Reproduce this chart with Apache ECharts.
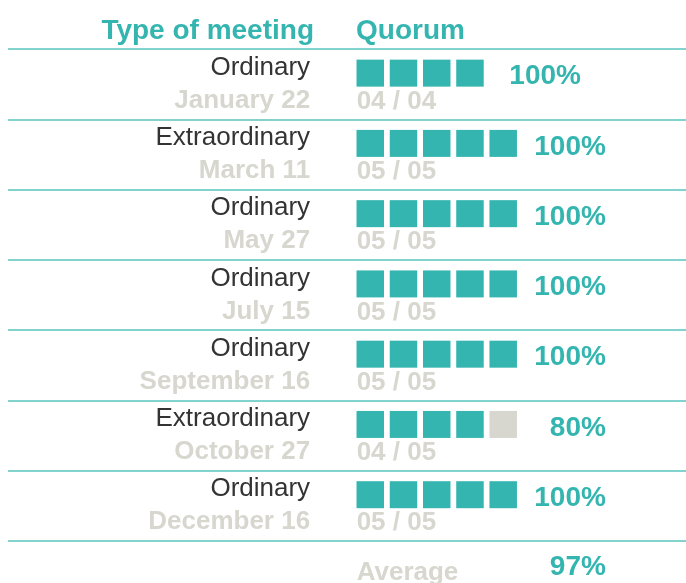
<!DOCTYPE html>
<html>
<head>
<meta charset="utf-8">
<script src="https://cdn.jsdelivr.net/npm/echarts@6/dist/echarts.min.js"></script>
<style>html,body{margin:0;padding:0;background:#fff;}#c{width:686px;height:583px;}</style>
</head>
<body>
<div id="c"></div>
<script>
// ---- data ----
var meetingTypes = ['Ordinary','Extraordinary','Ordinary','Ordinary','Ordinary','Extraordinary','Ordinary'];
var meetingDates = ['January 22','March 11','May 27','July 15','September 16','October 27','December 16'];
var present = [4,5,5,5,5,4,5];
var members = [4,5,5,5,5,5,5];
var quorumPct = [100,100,100,100,100,80,100];
var averageLabel = 'Average';
var averagePct = 97;
var headers = ['Type of meeting','Quorum'];

// ---- styles ----
var TEAL = '#35b5b0', LINE = '#82d2ce', GRAY = '#d7d7cf', DARK = '#333333', FONT = 'Liberation Sans, Arial, sans-serif';

var nRows = meetingTypes.length;
var squares = [];
for (var r = 0; r < nRows; r++) {
  for (var i = 0; i < members[r]; i++) {
    squares.push({value: [i + 0.5, r + 0.5], itemStyle: {color: i < present[r] ? TEAL : GRAY}});
  }
}
function pad2(n){ return (n < 10 ? '0' : '') + n; }
var fractions = [];
for (var r = 0; r < nRows; r++) {
  fractions.push({value: [0, r + 0.5], txt: pad2(present[r]) + ' / ' + pad2(members[r])});
}
fractions.push({value: [0, nRows + 0.5], txt: averageLabel, label: {offset: [0, -3]}});

var pctPts = [];
for (var r = 0; r < nRows; r++) {
  pctPts.push({value: [3.84 + 0.75 * members[r], r + 0.5], txt: quorumPct[r] + '%'});
}
pctPts.push({value: [3.84 + 0.75 * 5, nRows + 0.5], txt: averagePct + '%', label: {offset: [0, -9]}});

var rowLabels = [];
for (var r = 0; r < nRows; r++) {
  rowLabels.push({value: [-1.31, r + 0.5], t: meetingTypes[r], d: meetingDates[r]});
}

var lineColors = [];
for (var r = 0; r <= nRows; r++) lineColors.push(LINE);
lineColors.push('rgba(0,0,0,0)');

var chart = echarts.init(document.getElementById('c'), null, {renderer: 'canvas'});
chart.setOption({
  animation: false,
  title: [
    {text: headers[0], right: 372, top: 17, padding: 0, textStyle: {fontSize: 28, fontWeight: 'bold', color: TEAL, fontFamily: FONT}},
    {text: headers[1], left: 356, top: 17, padding: 0, textStyle: {fontSize: 28, fontWeight: 'bold', color: TEAL, fontFamily: FONT}}
  ],
  grid: {left: 8, top: 49, right: 0, bottom: 0, containLabel: false},
  xAxis: {type: 'value', min: -10.4, max: 10, show: false},
  yAxis: {
    type: 'value', min: 0, max: 7.6, interval: 1, inverse: true,
    axisLine: {show: false}, axisTick: {show: false}, axisLabel: {show: false},
    splitLine: {show: true, lineStyle: {color: lineColors, width: 2}}
  },
  series: [
    {type: 'scatter', symbol: 'rect', symbolSize: [27.5, 27], symbolOffset: [0, -11], data: squares, silent: true,
      itemStyle: {opacity: 1}},
    {type: 'scatter', symbolSize: 0, data: rowLabels, silent: true, itemStyle: {opacity: 1},
      label: {show: true, position: 'left', distance: 0, offset: [0, 0],
        formatter: function (p) { return '{a|' + p.data.t + '}\n{b|' + p.data.d + '}'; },
        rich: {
          a: {fontSize: 26, color: DARK, fontFamily: FONT, lineHeight: 33, align: 'right'},
          b: {fontSize: 26, color: GRAY, fontWeight: 'bold', fontFamily: FONT, lineHeight: 33, align: 'right'}
        }}},
    {type: 'scatter', symbolSize: 0, data: fractions, silent: true, itemStyle: {opacity: 1},
      label: {show: true, position: 'right', distance: 3, offset: [0, 17.5], fontSize: 26, fontWeight: 'bold', color: GRAY, fontFamily: FONT,
        formatter: function (p) { return p.data.txt; }}},
    {type: 'scatter', symbolSize: 0, data: pctPts, silent: true, itemStyle: {opacity: 1},
      label: {show: true, position: 'left', distance: 0, offset: [0, -7.5], fontSize: 28, fontWeight: 'bold', color: TEAL, fontFamily: FONT,
        formatter: function (p) { return p.data.txt; }}}
  ]
});
</script>
</body>
</html>
